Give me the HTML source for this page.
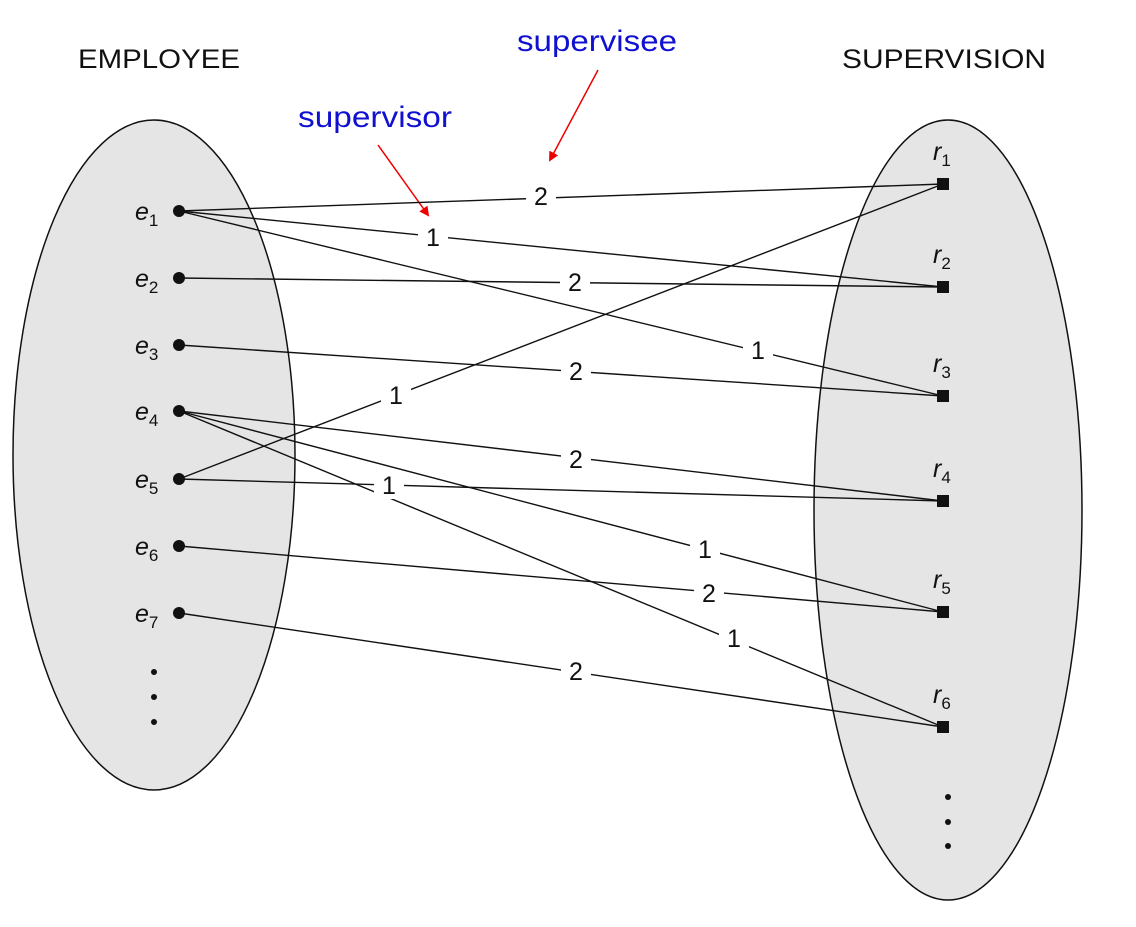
<!DOCTYPE html>
<html><head><style>body{margin:0;background:#fff}svg{display:block}</style></head>
<body>
<svg width="1136" height="927" viewBox="0 0 1136 927" xmlns="http://www.w3.org/2000/svg" font-family="Liberation Sans, sans-serif">
<defs><marker id="ar" markerWidth="10" markerHeight="10" refX="8" refY="5" orient="auto" markerUnits="userSpaceOnUse"><path d="M0,0 L10,5 L0,10 z" fill="#e00"/></marker></defs>
<ellipse cx="154" cy="455" rx="141" ry="335" fill="#e5e5e5" stroke="#111" stroke-width="1.5"/>
<ellipse cx="948" cy="510" rx="134" ry="390" fill="#e5e5e5" stroke="#111" stroke-width="1.5"/>
<text x="78" y="68" font-size="27" fill="#111" textLength="162" lengthAdjust="spacingAndGlyphs">EMPLOYEE</text>
<text x="842" y="68" font-size="27" fill="#111" textLength="204" lengthAdjust="spacingAndGlyphs">SUPERVISION</text>
<text x="517" y="51" font-size="30" fill="#1010d0" textLength="160" lengthAdjust="spacingAndGlyphs">supervisee</text>
<text x="298" y="127" font-size="30" fill="#1010d0" textLength="154" lengthAdjust="spacingAndGlyphs">supervisor</text>
<line x1="598" y1="70" x2="550" y2="160" stroke="#e00" stroke-width="1.5" marker-end="url(#ar)"/>
<line x1="378" y1="145" x2="428" y2="215" stroke="#e00" stroke-width="1.5" marker-end="url(#ar)"/>
<g stroke="#111" stroke-width="1.4">
<line x1="179" y1="211" x2="943" y2="184"/>
<line x1="179" y1="211" x2="943" y2="287"/>
<line x1="179" y1="211" x2="943" y2="396"/>
<line x1="179" y1="278" x2="943" y2="287"/>
<line x1="179" y1="345" x2="943" y2="396"/>
<line x1="179" y1="479" x2="943" y2="184"/>
<line x1="179" y1="411" x2="943" y2="501"/>
<line x1="179" y1="479" x2="943" y2="501"/>
<line x1="179" y1="411" x2="943" y2="612"/>
<line x1="179" y1="546" x2="943" y2="612"/>
<line x1="179" y1="411" x2="943" y2="727"/>
<line x1="179" y1="613" x2="943" y2="727"/>
</g>
<g fill="#fff">
<rect x="526" y="182" width="30" height="28"/><rect x="418" y="223" width="30" height="28"/>
<rect x="743" y="336" width="30" height="28"/><rect x="560" y="268" width="30" height="28"/>
<rect x="561" y="357" width="30" height="28"/><rect x="381" y="381" width="30" height="28"/>
<rect x="561" y="445" width="30" height="28"/><rect x="374" y="471" width="30" height="28"/>
<rect x="690" y="535" width="30" height="28"/><rect x="694" y="579" width="30" height="28"/>
<rect x="719" y="624" width="30" height="28"/><rect x="561" y="657" width="30" height="28"/>
</g>
<g font-size="25" fill="#111" text-anchor="middle">
<text x="541" y="205">2</text><text x="433" y="246">1</text><text x="758" y="359">1</text>
<text x="575" y="291">2</text><text x="576" y="380">2</text><text x="396" y="404">1</text>
<text x="576" y="468">2</text><text x="389" y="494">1</text><text x="705" y="558">1</text>
<text x="709" y="602">2</text><text x="734" y="647">1</text><text x="576" y="680">2</text>
</g>
<g fill="#111">
<circle cx="179" cy="211" r="6"/><circle cx="179" cy="278" r="6"/><circle cx="179" cy="345" r="6"/>
<circle cx="179" cy="411" r="6"/><circle cx="179" cy="479" r="6"/><circle cx="179" cy="546" r="6"/>
<circle cx="179" cy="613" r="6"/>
<circle cx="154" cy="672" r="3"/><circle cx="154" cy="697" r="3"/><circle cx="154" cy="722" r="3"/>
<circle cx="948" cy="797" r="3"/><circle cx="948" cy="822" r="3"/><circle cx="948" cy="846" r="3"/>
<rect x="937" y="178" width="12" height="12"/><rect x="937" y="281" width="12" height="12"/>
<rect x="937" y="390" width="12" height="12"/><rect x="937" y="495" width="12" height="12"/>
<rect x="937" y="606" width="12" height="12"/><rect x="937" y="721" width="12" height="12"/>
</g>
<g font-size="25" fill="#111" font-style="italic">
<text x="135" y="220">e<tspan font-size="17" dy="6" font-style="normal">1</tspan></text>
<text x="135" y="287">e<tspan font-size="17" dy="6" font-style="normal">2</tspan></text>
<text x="135" y="354">e<tspan font-size="17" dy="6" font-style="normal">3</tspan></text>
<text x="135" y="420">e<tspan font-size="17" dy="6" font-style="normal">4</tspan></text>
<text x="135" y="488">e<tspan font-size="17" dy="6" font-style="normal">5</tspan></text>
<text x="135" y="555">e<tspan font-size="17" dy="6" font-style="normal">6</tspan></text>
<text x="135" y="622">e<tspan font-size="17" dy="6" font-style="normal">7</tspan></text>
<text x="933" y="160">r<tspan font-size="17" dy="6" font-style="normal">1</tspan></text>
<text x="933" y="263">r<tspan font-size="17" dy="6" font-style="normal">2</tspan></text>
<text x="933" y="372">r<tspan font-size="17" dy="6" font-style="normal">3</tspan></text>
<text x="933" y="477">r<tspan font-size="17" dy="6" font-style="normal">4</tspan></text>
<text x="933" y="588">r<tspan font-size="17" dy="6" font-style="normal">5</tspan></text>
<text x="933" y="703">r<tspan font-size="17" dy="6" font-style="normal">6</tspan></text>
</g>
</svg>
</body></html>
